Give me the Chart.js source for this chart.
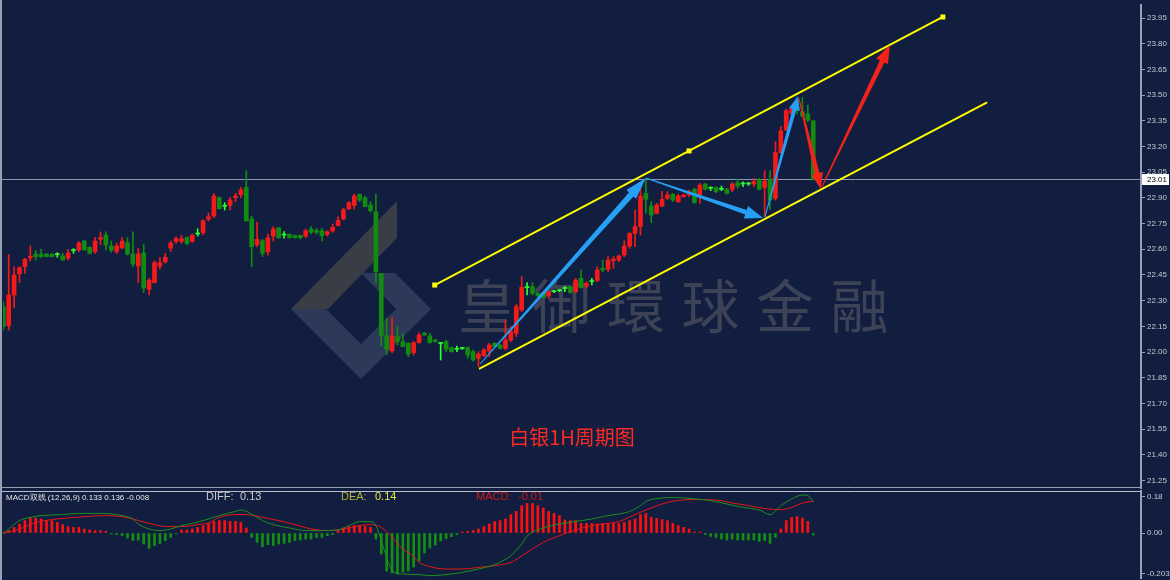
<!DOCTYPE html>
<html>
<head>
<meta charset="utf-8">
<script src="https://cdn.jsdelivr.net/npm/chart.js@4.4.1/dist/chart.umd.min.js"></script>
<style>
  html, body { margin: 0; padding: 0; background: #111e3f; }
  #wrap { position: relative; width: 1170px; height: 580px; overflow: hidden; background: #111e3f; }
  #mainBox { position: absolute; left: 0; top: 0; width: 1170px; height: 489px; }
  #macdBox { position: absolute; left: 0; top: 489px; width: 1170px; height: 91px; }
</style>
</head>
<body>
<div id="wrap">
  <div id="mainBox"><canvas id="priceChart" width="1170" height="489"></canvas></div>
  <div id="macdBox"><canvas id="macdChart" width="1170" height="91"></canvas></div>
</div>
<script>
// Hourly silver candles (one value per bar)
const openP = [22.265,22.154,22.333,22.457,22.498,22.549,22.572,22.572,22.572,22.572,22.568,22.561,22.547,22.592,22.596,22.648,22.611,22.586,22.658,22.683,
  22.619,22.586,22.607,22.638,22.572,22.502,22.578,22.366,22.405,22.502,22.527,22.607,22.646,22.646,22.669,22.646,22.689,22.697,22.775,22.794,
  22.901,22.851,22.856,22.901,22.919,22.961,22.778,22.625,22.650,22.586,22.677,22.726,22.683,22.687,22.681,22.681,22.677,22.718,22.710,22.708,
  22.687,22.707,22.738,22.777,22.837,22.856,22.921,22.901,22.858,22.819,22.459,22.094,22.006,22.090,22.061,22.051,21.996,22.055,22.109,22.094,
  22.070,22.050,22.061,22.025,22.016,22.021,22.025,22.002,21.963,21.979,22.006,22.051,22.041,22.021,22.070,22.109,22.245,22.376,22.382,22.343,
  22.347,22.327,22.353,22.358,22.371,22.382,22.352,22.430,22.385,22.411,22.417,22.488,22.483,22.533,22.537,22.566,22.619,22.693,22.732,22.926,
  22.852,22.810,22.852,22.897,22.921,22.878,22.907,22.917,22.950,22.917,22.981,22.956,22.961,22.950,22.950,22.950,22.989,22.981,22.981,22.981,
  23.008,22.961,23.008,22.897,23.164,23.296,23.393,23.430,23.403,23.389,23.350];
const highP = [22.294,22.570,22.498,22.498,22.547,22.619,22.592,22.600,22.575,22.575,22.580,22.576,22.600,22.604,22.644,22.650,22.615,22.669,22.701,22.701,
  22.648,22.635,22.668,22.668,22.701,22.605,22.631,22.430,22.531,22.551,22.576,22.648,22.673,22.681,22.673,22.689,22.720,22.771,22.812,22.926,
  22.905,22.872,22.903,22.926,22.961,23.059,22.794,22.759,22.658,22.689,22.732,22.728,22.703,22.690,22.683,22.683,22.718,22.732,22.722,22.722,
  22.708,22.747,22.790,22.839,22.878,22.922,22.922,22.911,22.878,22.922,22.459,22.197,22.201,22.148,22.109,22.055,22.061,22.113,22.115,22.109,
  22.074,22.053,22.070,22.029,22.035,22.025,22.031,22.012,22.002,22.021,22.051,22.055,22.045,22.187,22.148,22.278,22.440,22.405,22.405,22.347,
  22.351,22.358,22.360,22.364,22.382,22.386,22.430,22.479,22.411,22.430,22.498,22.537,22.557,22.557,22.566,22.650,22.697,22.829,22.956,23.014,
  22.878,22.868,22.936,22.936,22.926,22.922,22.922,22.946,22.956,22.985,22.985,22.965,22.965,22.969,22.956,22.989,23.008,22.994,22.990,23.014,
  23.014,23.059,23.059,23.228,23.316,23.417,23.440,23.450,23.487,23.442,23.350];
const lowP = [22.128,22.128,22.259,22.405,22.459,22.531,22.537,22.551,22.555,22.555,22.553,22.535,22.537,22.576,22.586,22.594,22.572,22.576,22.627,22.596,
  22.582,22.574,22.605,22.566,22.498,22.405,22.347,22.333,22.405,22.483,22.518,22.586,22.634,22.634,22.625,22.640,22.677,22.685,22.765,22.786,
  22.835,22.829,22.829,22.878,22.901,22.765,22.498,22.615,22.557,22.566,22.648,22.665,22.664,22.665,22.665,22.660,22.667,22.689,22.689,22.648,
  22.677,22.699,22.736,22.771,22.831,22.835,22.878,22.849,22.817,22.405,22.035,21.986,21.996,22.041,22.031,21.973,21.982,22.051,22.097,22.051,
  22.058,21.953,22.002,21.998,22.002,22.015,21.963,21.947,21.914,21.973,21.973,22.027,22.017,22.012,22.061,22.090,22.236,22.333,22.333,22.323,
  22.315,22.313,22.347,22.352,22.353,22.343,22.347,22.372,22.372,22.391,22.411,22.469,22.469,22.489,22.527,22.557,22.605,22.615,22.683,22.810,
  22.755,22.806,22.849,22.891,22.878,22.872,22.903,22.907,22.868,22.868,22.946,22.942,22.930,22.942,22.921,22.936,22.956,22.965,22.972,22.965,
  22.946,22.790,22.833,22.887,23.160,23.292,23.380,23.390,23.374,23.345,23.004];
const closeP = [22.148,22.333,22.450,22.492,22.541,22.560,22.557,22.557,22.557,22.557,22.568,22.537,22.578,22.592,22.636,22.596,22.576,22.648,22.669,22.625,
  22.594,22.619,22.648,22.572,22.514,22.572,22.374,22.420,22.522,22.522,22.553,22.636,22.662,22.662,22.634,22.681,22.689,22.767,22.790,22.911,
  22.837,22.851,22.887,22.911,22.946,22.765,22.615,22.658,22.576,22.667,22.718,22.667,22.683,22.667,22.667,22.667,22.708,22.699,22.699,22.679,
  22.703,22.728,22.769,22.831,22.872,22.911,22.887,22.849,22.825,22.469,22.096,22.016,22.094,22.061,22.031,21.988,22.055,22.099,22.099,22.055,
  22.061,22.050,22.016,22.002,22.016,22.021,21.982,21.953,21.988,22.012,22.041,22.031,22.021,22.070,22.119,22.265,22.378,22.376,22.343,22.327,
  22.319,22.353,22.353,22.358,22.371,22.347,22.420,22.376,22.401,22.411,22.479,22.479,22.537,22.543,22.561,22.619,22.693,22.732,22.911,22.891,
  22.800,22.858,22.891,22.917,22.887,22.911,22.917,22.936,22.872,22.975,22.950,22.956,22.936,22.950,22.926,22.981,22.969,22.981,22.981,22.994,
  22.950,22.998,22.887,23.164,23.292,23.409,23.422,23.409,23.378,23.354,23.008];

const priceTicks = [23.95,23.80,23.65,23.50,23.35,23.20,23.05,22.90,22.75,22.60,22.45,22.30,22.15,22.00,21.85,21.70,21.55,21.40,21.25];

// MACD(12,26,9) panel
const macdHist = [0.003,0.012,0.028,0.045,0.062,0.075,0.075,0.070,0.062,0.062,0.053,0.042,0.032,0.028,0.028,0.020,0.015,0.012,0.012,0.008,
  -0.005,-0.008,-0.013,-0.025,-0.038,-0.035,-0.055,-0.077,-0.063,-0.052,-0.038,-0.022,-0.002,0.015,0.015,0.020,0.028,0.037,0.048,0.058,
  0.062,0.062,0.058,0.058,0.053,0.025,-0.022,-0.047,-0.068,-0.058,-0.063,-0.055,-0.052,-0.047,-0.038,-0.035,-0.030,-0.030,-0.022,-0.022,
  -0.013,-0.008,0.012,0.025,0.032,0.037,0.037,0.032,0.028,-0.030,-0.105,-0.190,-0.200,-0.205,-0.195,-0.190,-0.170,-0.140,-0.100,-0.075,
  -0.060,-0.040,-0.028,-0.018,-0.008,0.003,0.008,0.012,0.020,0.032,0.045,0.057,0.062,0.070,0.092,0.108,0.137,0.148,0.148,0.137,
  0.125,0.108,0.098,0.087,0.065,0.062,0.062,0.048,0.048,0.048,0.045,0.048,0.048,0.048,0.048,0.053,0.062,0.070,0.092,0.098,
  0.078,0.073,0.067,0.062,0.048,0.037,0.028,0.020,0.003,0.001,-0.008,-0.017,-0.022,-0.030,-0.035,-0.030,-0.035,-0.035,-0.035,-0.035,
  -0.042,-0.038,-0.052,-0.022,0.020,0.062,0.078,0.082,0.075,0.058,-0.010];
// [bar, value]
const diffLine = [[1,-0.003],[2,0.020],[4,0.062],[6,0.078],[8,0.087],[12,0.092],[15,0.098],[19,0.098],[23,0.087],[25,0.070],[26,0.045],[28,0.020],
  [30,0.012],[32,0.020],[34,0.037],[36,0.048],[38,0.062],[41,0.087],[44,0.108],[45,0.115],[47,0.095],[49,0.062],[51,0.042],[54,0.025],[57,0.012],
  [60,0.012],[63,0.015],[65,0.037],[67,0.057],[69,0.057],[70,0.037],[71,-0.038],[72,-0.122],[73,-0.188],[75,-0.205],[78,-0.208],[80,-0.213],
  [83,-0.208],[86,-0.197],[89,-0.180],[92,-0.158],[95,-0.113],[97,-0.055],[98,-0.015],[101,0.025],[104,0.045],[107,0.058],[110,0.070],[113,0.087],
  [115,0.095],[117,0.108],[119,0.137],[120,0.158],[123,0.175],[125,0.178],[128,0.173],[132,0.162],[135,0.145],[138,0.128],[141,0.115],[143,0.092],
  [145,0.137],[147,0.170],[149,0.190],[150,0.187],[151,0.158]];
const deaLine = [[1,-0.002],[4,0.020],[7,0.053],[10,0.067],[13,0.075],[16,0.082],[20,0.087],[23,0.082],[25,0.070],[28,0.048],[31,0.033],[34,0.032],
  [37,0.042],[39,0.050],[41,0.078],[44,0.092],[46,0.092],[49,0.078],[52,0.062],[55,0.042],[58,0.020],[61,0.012],[64,0.020],[67,0.037],[69,0.042],
  [71,0.028],[73,-0.022],[75,-0.080],[77,-0.118],[78,-0.147],[80,-0.168],[83,-0.180],[86,-0.180],[89,-0.172],[92,-0.163],[95,-0.147],[98,-0.097],
  [101,-0.047],[104,-0.013],[107,0.015],[110,0.037],[113,0.048],[115,0.057],[117,0.080],[120,0.115],[123,0.145],[126,0.163],[130,0.167],[133,0.165],
  [136,0.150],[139,0.137],[142,0.122],[145,0.117],[147,0.128],[149,0.150],[151,0.158]];
const macdTicks = [0.18, 0.00, -0.203];
const macdTickLabels = ['0.18', '0.00', '-0.203'];

// drawn objects: [bar, price] pairs
const channelTop = [[80.9, 22.391], [128.0, 23.174], [175.0, 23.956]];
const channelBottom = [[89.1, 21.901], [183.2, 23.458]];
const blueArrows = [[89.3, 21.930, 120.0, 23.016], [120.0, 23.016, 141.7, 22.782], [142.05, 22.788, 148.2, 23.495]];
const redArrows = [[148.35, 23.483, 152.4, 22.952], [152.6, 22.963, 165.2, 23.792]];

const UP = '#f51a1a', DOWN = '#118c11', DOJI = '#2cff2c';
const X_MIN = 0.944, X_MAX = 211.7;

const bars = closeP.map((c, i) => i + 1);
const candleColor = closeP.map((c, i) => c > openP[i] ? UP : (c < openP[i] ? DOWN : DOJI));

// fixed axis width, and no extra room for the end labels
function fixedWidth(scale) {
    scale.width = 29;
    scale.paddingTop = 0;
    scale.paddingBottom = 0;
}

function drawArrow(ctx, x1, y1, x2, y2, w0, w1, headW, headLen, color) {
    const len = Math.hypot(x2 - x1, y2 - y1);
    const ux = (x2 - x1) / len, uy = (y2 - y1) / len;
    const nx = -uy, ny = ux;
    const bx = x2 - ux * headLen, by = y2 - uy * headLen;
    ctx.beginPath();
    ctx.moveTo(x1 + nx * w0 / 2, y1 + ny * w0 / 2);
    ctx.lineTo(bx + nx * w1 / 2, by + ny * w1 / 2);
    ctx.lineTo(bx + nx * headW / 2, by + ny * headW / 2);
    ctx.lineTo(x2, y2);
    ctx.lineTo(bx - nx * headW / 2, by - ny * headW / 2);
    ctx.lineTo(bx - nx * w1 / 2, by - ny * w1 / 2);
    ctx.lineTo(x1 - nx * w0 / 2, y1 - ny * w0 / 2);
    ctx.closePath();
    ctx.fillStyle = color;
    ctx.fill();
}

// watermark + current price line behind the candles
const backdropPlugin = {
    id: 'backdrop',
    beforeDatasetsDraw(chart) {
        const ctx = chart.ctx;
        const { y } = chart.scales;
        ctx.save();
        // logo
        ctx.fillStyle = '#3a3c46';
        ctx.beginPath();
        ctx.moveTo(291, 309); ctx.lineTo(397, 201); ctx.lineTo(397, 238); ctx.lineTo(328, 309);
        ctx.closePath(); ctx.fill();
        ctx.fillStyle = '#2d3958';
        ctx.beginPath();
        ctx.moveTo(291, 309); ctx.lineTo(361, 379); ctx.lineTo(431, 309);
        ctx.lineTo(396, 309); ctx.lineTo(361, 344); ctx.lineTo(326, 309);
        ctx.closePath(); ctx.fill();
        ctx.beginPath();
        ctx.moveTo(361, 273); ctx.lineTo(395, 273); ctx.lineTo(431, 309); ctx.lineTo(396, 309);
        ctx.closePath(); ctx.fill();
        // text
        ctx.fillStyle = '#3d4356';
        ctx.font = '400 58px "Noto Sans CJK TC"';
        ctx.textBaseline = 'middle';
        ctx.textAlign = 'left';
        const chars = '皇御環球金融';
        for (let i = 0; i < chars.length; i++) ctx.fillText(chars[i], 458 + i * 74.5, 306);
        // current price line
        const last = closeP[closeP.length - 1];
        const py = Math.round(y.getPixelForValue(last)) + 0.5;
        ctx.strokeStyle = '#8e95a8';
        ctx.lineWidth = 1;
        ctx.beginPath();
        ctx.moveTo(0, py); ctx.lineTo(chart.chartArea.right, py);
        ctx.stroke();
        ctx.restore();
    }
};

const overlayPlugin = {
    id: 'overlay',
    afterDatasetsDraw(chart) {
        const ctx = chart.ctx;
        const { x, y } = chart.scales;
        const P = (b, p) => [x.getPixelForValue(b), y.getPixelForValue(p)];
        ctx.save();
        // channel
        ctx.strokeStyle = '#ffff00';
        ctx.lineWidth = 2;
        const t0 = P(...channelTop[0]), t1 = P(...channelTop[2]);
        const b0 = P(...channelBottom[0]), b1 = P(...channelBottom[1]);
        ctx.beginPath(); ctx.moveTo(t0[0], t0[1]); ctx.lineTo(t1[0], t1[1]); ctx.stroke();
        ctx.beginPath(); ctx.moveTo(b0[0], b0[1]); ctx.lineTo(b1[0], b1[1]); ctx.stroke();
        ctx.fillStyle = '#ffff00';
        channelTop.forEach(pt => { const q = P(...pt); ctx.fillRect(q[0] - 2.5, q[1] - 2.5, 5, 5); });
        // arrows
        const blueSpec = [[1, 6, 13, 22], [1, 5, 13, 18], [1, 4, 11, 14]];
        blueArrows.forEach((a, i) => {
            const s = P(a[0], a[1]), e = P(a[2], a[3]);
            drawArrow(ctx, s[0], s[1], e[0], e[1], ...blueSpec[i], '#26a0f5');
        });
        const redSpec = [[1, 5, 12, 16], [1, 5, 13, 18]];
        redArrows.forEach((a, i) => {
            const s = P(a[0], a[1]), e = P(a[2], a[3]);
            drawArrow(ctx, s[0], s[1], e[0], e[1], ...redSpec[i], '#f2231b');
        });
        // title
        ctx.fillStyle = '#ff2a22';
        ctx.font = '20px "Noto Sans CJK SC"';
        ctx.textAlign = 'center';
        ctx.textBaseline = 'middle';
        ctx.fillText('白银1H周期图', 572, 437);
        ctx.restore();
    },
    afterDraw(chart) {
        const ctx = chart.ctx;
        const { y } = chart.scales;
        ctx.save();
        // frame
        ctx.strokeStyle = '#9aa0b2';
        ctx.lineWidth = 2;
        ctx.beginPath(); ctx.moveTo(1, 0); ctx.lineTo(1, 489); ctx.stroke();
        ctx.lineWidth = 1;
        ctx.beginPath(); ctx.moveTo(0, 487.5); ctx.lineTo(chart.chartArea.right, 487.5); ctx.stroke();
        // price box
        const last = closeP[closeP.length - 1];
        const py = Math.round(y.getPixelForValue(last));
        ctx.fillStyle = '#ffffff';
        ctx.fillRect(chart.chartArea.right + 1, py - 5, 27, 11);
        ctx.fillStyle = '#000000';
        ctx.font = '8px "Liberation Sans"';
        ctx.textBaseline = 'middle';
        ctx.textAlign = 'left';
        ctx.fillText(last.toFixed(2), chart.chartArea.right + 6, py + 1);
        ctx.restore();
    }
};

const macdTextPlugin = {
    id: 'macdText',
    afterDraw(chart) {
        const ctx = chart.ctx;
        ctx.save();
        ctx.strokeStyle = '#b8bccb';
        ctx.lineWidth = 1;
        ctx.beginPath(); ctx.moveTo(0, 2.5); ctx.lineTo(chart.chartArea.right, 2.5); ctx.stroke();
        ctx.strokeStyle = '#9aa0b2';
        ctx.lineWidth = 2;
        ctx.beginPath(); ctx.moveTo(1, 0); ctx.lineTo(1, 91); ctx.stroke();
        ctx.textBaseline = 'middle';
        ctx.textAlign = 'left';
        ctx.font = '8px "Liberation Sans"';
        ctx.fillStyle = '#e6e6e6';
        ctx.fillText('MACD双线 (12,26,9) 0.133 0.136 -0.008', 6, 9);
        ctx.font = '11px "Liberation Sans"';
        ctx.fillStyle = '#c9c9cf';
        ctx.fillText('DIFF:', 206, 8);
        ctx.fillText('0.13', 240, 8);
        ctx.fillStyle = '#b4b43a';
        ctx.fillText('DEA:', 341, 8);
        ctx.fillStyle = '#e3e33c';
        ctx.fillText('0.14', 375, 8);
        ctx.fillStyle = '#c81a1a';
        ctx.fillText('MACD:', 476, 8);
        ctx.fillText('-0.01', 518, 8);
        ctx.restore();
    }
};

const axisStyle = {
    position: 'right',
    afterFit: fixedWidth,
    grid: { drawOnChartArea: false, drawTicks: true, tickLength: 4, color: '#9aa0b2' },
    border: { display: true, color: '#9aa0b2', width: 2 },
    ticks: { color: '#c6c9d4', font: { family: 'Liberation Sans', size: 8 }, padding: 2 }
};

const priceChart = new Chart(document.getElementById('priceChart'), {
    type: 'bar',
    data: {
        datasets: [
            {
                label: 'body',
                data: bars.map((b, i) => ({ x: b, y: [openP[i], closeP[i]] })),
                backgroundColor: candleColor,
                barThickness: 4,
                minBarLength: 1,
                grouped: false,
                order: 0
            },
            {
                label: 'wick',
                data: bars.map((b, i) => ({ x: b, y: [lowP[i], highP[i]] })),
                backgroundColor: candleColor,
                barThickness: 1,
                grouped: false,
                order: 1
            }
        ]
    },
    options: {
        responsive: false,
        animation: false,
        devicePixelRatio: 1,
        layout: { padding: { left: 3, top: 5, bottom: 1, right: 0 } },
        scales: {
            x: { type: 'linear', min: X_MIN, max: X_MAX, offset: false, display: false },
            y: Object.assign({}, axisStyle, {
                min: 21.206, max: 24.026,
                afterBuildTicks: scale => { scale.ticks = priceTicks.map(v => ({ value: v })); },
                ticks: Object.assign({}, axisStyle.ticks, { callback: v => v.toFixed(2) })
            })
        },
        plugins: { legend: { display: false }, tooltip: { enabled: false } }
    },
    plugins: [backdropPlugin, overlayPlugin]
});

const macdChart = new Chart(document.getElementById('macdChart'), {
    type: 'bar',
    data: {
        datasets: [
            {
                type: 'line',
                label: 'DIFF',
                data: diffLine.map(p => ({ x: p[0], y: p[1] })),
                borderColor: '#1f8f1f',
                borderWidth: 1,
                pointRadius: 0,
                cubicInterpolationMode: 'monotone',
                order: 0
            },
            {
                type: 'line',
                label: 'DEA',
                data: deaLine.map(p => ({ x: p[0], y: p[1] })),
                borderColor: '#e81616',
                borderWidth: 1,
                pointRadius: 0,
                cubicInterpolationMode: 'monotone',
                order: 1
            },
            {
                label: 'MACD',
                data: bars.map((b, i) => ({ x: b, y: macdHist[i] })),
                backgroundColor: macdHist.map(v => v >= 0 ? '#ff1010' : '#138f13'),
                barThickness: 2,
                minBarLength: 1,
                order: 2
            }
        ]
    },
    options: {
        responsive: false,
        animation: false,
        devicePixelRatio: 1,
        layout: { padding: { left: 3, top: 2, bottom: 2, right: 0 } },
        scales: {
            x: { type: 'linear', min: X_MIN, max: X_MAX, offset: false, display: false },
            y: Object.assign({}, axisStyle, {
                min: -0.225, max: 0.21,
                afterBuildTicks: scale => { scale.ticks = macdTicks.map(v => ({ value: v })); },
                ticks: Object.assign({}, axisStyle.ticks, {
                    callback: (v, i) => macdTickLabels[i]
                })
            })
        },
        plugins: { legend: { display: false }, tooltip: { enabled: false } }
    },
    plugins: [macdTextPlugin]
});
</script>
</body>
</html>
